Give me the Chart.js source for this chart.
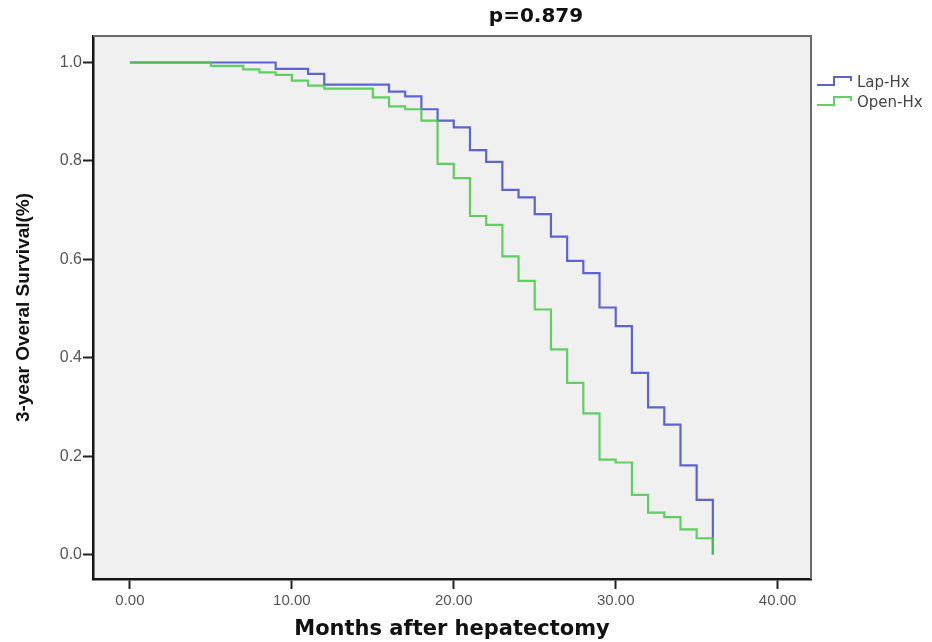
<!DOCTYPE html>
<html lang="en">
  <head>
    <meta charset="UTF-8" />
    <title>3-year Overal Survival</title>
    <style>
      html, body { margin: 0; padding: 0; background: #fff; }
      #wrap { width: 932px; height: 642px; }
    </style>
  </head>
  <body>
    <div id="wrap"><canvas id="graphic" width="932" height="642"></canvas></div>
    <script src="https://cdn.jsdelivr.net/npm/chart.js"></script>
    <script>
      // Kaplan-Meier steps (month of drop, survival after it)
      const lapMonths = [0, 9, 11, 12, 16, 17, 18, 19, 20, 21, 22, 23, 24, 25, 26, 27, 28, 29, 30, 31, 32, 33, 34, 35, 36];
      const lapSurvival = [1.0, 0.987, 0.977, 0.955, 0.941, 0.931, 0.905, 0.882, 0.868, 0.822, 0.798, 0.741, 0.726, 0.692, 0.646, 0.597, 0.572, 0.502, 0.464, 0.369, 0.299, 0.264, 0.181, 0.111, 0.0];
      const openMonths = [0, 5, 7, 8, 9, 10, 11, 12, 15, 16, 17, 18, 19, 20, 21, 22, 23, 24, 25, 26, 27, 28, 29, 30, 31, 32, 33, 34, 35, 36];
      const openSurvival = [1.0, 0.993, 0.986, 0.980, 0.975, 0.963, 0.953, 0.947, 0.929, 0.911, 0.905, 0.882, 0.794, 0.765, 0.688, 0.670, 0.606, 0.556, 0.498, 0.417, 0.349, 0.287, 0.193, 0.187, 0.121, 0.085, 0.076, 0.051, 0.033, 0.0];
      const seriesLabels = ["Lap-Hx", "Open-Hx"];
      const xTicks = [0, 10, 20, 30, 40];
      const yTicks = [0, 0.2, 0.4, 0.6, 0.8, 1.0];
      const chartTitle = "p=0.879";
      const xTitle = "Months after hepatectomy";
      const yTitle = "3-year Overal Survival(%)";

      const toPoints = (xs, ys) => xs.map((x, i) => ({ x: x, y: ys[i] }));

      // grey plot area + thin top/right frame like SPSS
      const framePlugin = {
        id: "frame",
        beforeDraw(chart) {
          const { ctx, chartArea: a } = chart;
          ctx.save();
          ctx.fillStyle = "#f0f0f0";
          ctx.fillRect(a.left, a.top, a.right - a.left, a.bottom - a.top);
          ctx.restore();
        },
        afterDraw(chart) {
          const { ctx, chartArea: a } = chart;
          ctx.save();
          ctx.strokeStyle = "#6a6a6a";
          ctx.lineWidth = 2;
          ctx.beginPath();
          ctx.moveTo(a.left, a.top);
          ctx.lineTo(a.right, a.top);
          ctx.lineTo(a.right, a.bottom);
          ctx.stroke();

          // title
          ctx.fillStyle = "#111";
          ctx.font = "bold 20px 'DejaVu Sans'";
          ctx.textAlign = "center";
          ctx.textBaseline = "middle";
          ctx.fillText(chartTitle, 536, 17);

          // legend with little step glyphs
          const x0 = a.right + 6;
          ctx.font = "15px 'DejaVu Sans'";
          ctx.textAlign = "left";
          chart.data.datasets.forEach((ds, i) => {
            const y = a.top + 47 + i * 20;
            ctx.strokeStyle = ds.borderColor;
            ctx.lineWidth = 2;
            ctx.beginPath();
            ctx.moveTo(x0, y + 2);
            ctx.lineTo(x0 + 17, y + 2);
            ctx.lineTo(x0 + 17, y - 6);
            ctx.lineTo(x0 + 34, y - 6);
            ctx.lineTo(x0 + 34, y - 2);
            ctx.stroke();
            ctx.fillStyle = "#444";
            ctx.fillText(ds.label, x0 + 40, y);
          });
          ctx.restore();
        }
      };

      const lienzo = document.getElementById("graphic");
      const grafico = new Chart(lienzo, {
        type: "line",
        data: {
          datasets: [
            {
              label: seriesLabels[0],
              data: toPoints(lapMonths, lapSurvival),
              borderColor: "rgb(92, 100, 208)",
              borderWidth: 2.2,
              stepped: "before",
              pointRadius: 0,
              fill: false,
              order: 2
            },
            {
              label: seriesLabels[1],
              data: toPoints(openMonths, openSurvival),
              borderColor: "rgba(72, 200, 72, 0.85)",
              borderWidth: 2.2,
              stepped: "before",
              pointRadius: 0,
              fill: false,
              order: 1
            }
          ]
        },
        options: {
          responsive: false,
          animation: false,
          devicePixelRatio: 1,
          layout: { padding: { top: 36, right: 121, left: 0, bottom: 0 } },
          plugins: {
            legend: { display: false },
            tooltip: { enabled: false }
          },
          scales: {
            x: {
              type: "linear",
              min: -2.28,
              max: 42.06,
              afterBuildTicks: (s) => { s.ticks = xTicks.map((v) => ({ value: v })); },
              afterFit: (s) => { s.height = 63; },
              ticks: {
                callback: (v) => Number(v).toFixed(2),
                color: "#555",
                font: { family: "'Liberation Sans'", size: 15 },
                padding: 3,
                maxRotation: 0,
                autoSkip: false
              },
              grid: { drawOnChartArea: false, drawTicks: true, tickLength: 10, tickColor: "#222", tickWidth: 2 },
              border: { color: "#151515", width: 2.5 },
              title: {
                display: true,
                text: xTitle,
                color: "#111",
                font: { family: "'DejaVu Sans'", size: 21, weight: "bold", lineHeight: 1.2 },
                padding: 0
              }
            },
            y: {
              min: -0.0498,
              max: 1.0539,
              afterBuildTicks: (s) => { s.ticks = yTicks.map((v) => ({ value: v })); },
              afterFit: (s) => { s.width = 93; },
              ticks: {
                callback: (v) => Number(v).toFixed(1),
                color: "#555",
                font: { family: "'Liberation Sans'", size: 16 },
                padding: 1
              },
              grid: { drawOnChartArea: false, drawTicks: true, tickLength: 10, tickColor: "#222", tickWidth: 2 },
              border: { color: "#151515", width: 2.5 },
              title: {
                display: true,
                text: yTitle,
                color: "#111",
                font: { family: "'Liberation Sans'", size: 19, weight: "bold", lineHeight: 1.2 },
                padding: { top: 12, bottom: 0 }
              }
            }
          }
        },
        plugins: [framePlugin]
      });
    </script>
  </body>
</html>
